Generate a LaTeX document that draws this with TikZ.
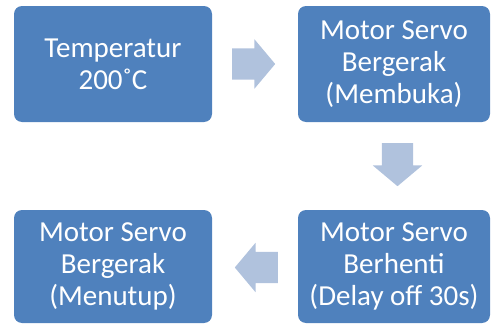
\documentclass[tikz,border=0pt]{standalone}
\usepackage{fontspec}
\setmainfont{Carlito}
\usetikzlibrary{shapes.arrows}
\definecolor{boxblue}{HTML}{4F81BD}
\definecolor{arrowblue}{HTML}{B0C2DD}
\begin{document}
\begin{tikzpicture}[x=1pt, y=-1pt]

      \tikzset{stepbox/.style={rectangle, rounded corners=8pt, fill=boxblue, text=white, align=center,
               font=\fontsize{29}{32}\selectfont, inner sep=0pt, minimum height=116pt}}
      \tikzset{flowarrow/.style={single arrow, fill=arrowblue, inner xsep=0pt, inner ysep=15.5pt, anchor=tail,
               minimum height=43pt, minimum width=49pt, single arrow head extend=9pt, single arrow tip angle=100}}
      \tikzset{downarrow/.style={flowarrow, inner xsep=15.5pt, inner ysep=0pt, shape border rotate=270}}
      \useasboundingbox (0,0) rectangle (491,324);
%% Boxes
      	\node[stepbox, minimum width=198pt] (temp) at (113,64) {Temperatur\\200˚C};
      	\node[stepbox, minimum width=192pt] (buka) at (394,64) {Motor Servo\\Bergerak\\(Membuka)};
    	\node[stepbox, minimum width=192pt, minimum height=113pt] (henti) at (394,266.5) {Motor Servo\\Berhenti\\(Delay off 30s)};
  	    \node[stepbox, minimum width=198pt, minimum height=113pt] (tutup) at (113,266.5) {Motor Servo\\Bergerak\\(Menutup)};
%Arrows
		\node[flowarrow] (a1) at (232,64) {};
		\node[downarrow] (a2) at (397.5,143) {};
		\node[flowarrow, shape border rotate=180] (a3) at (278,267.5) {};

	\end{tikzpicture}
\end{document}
